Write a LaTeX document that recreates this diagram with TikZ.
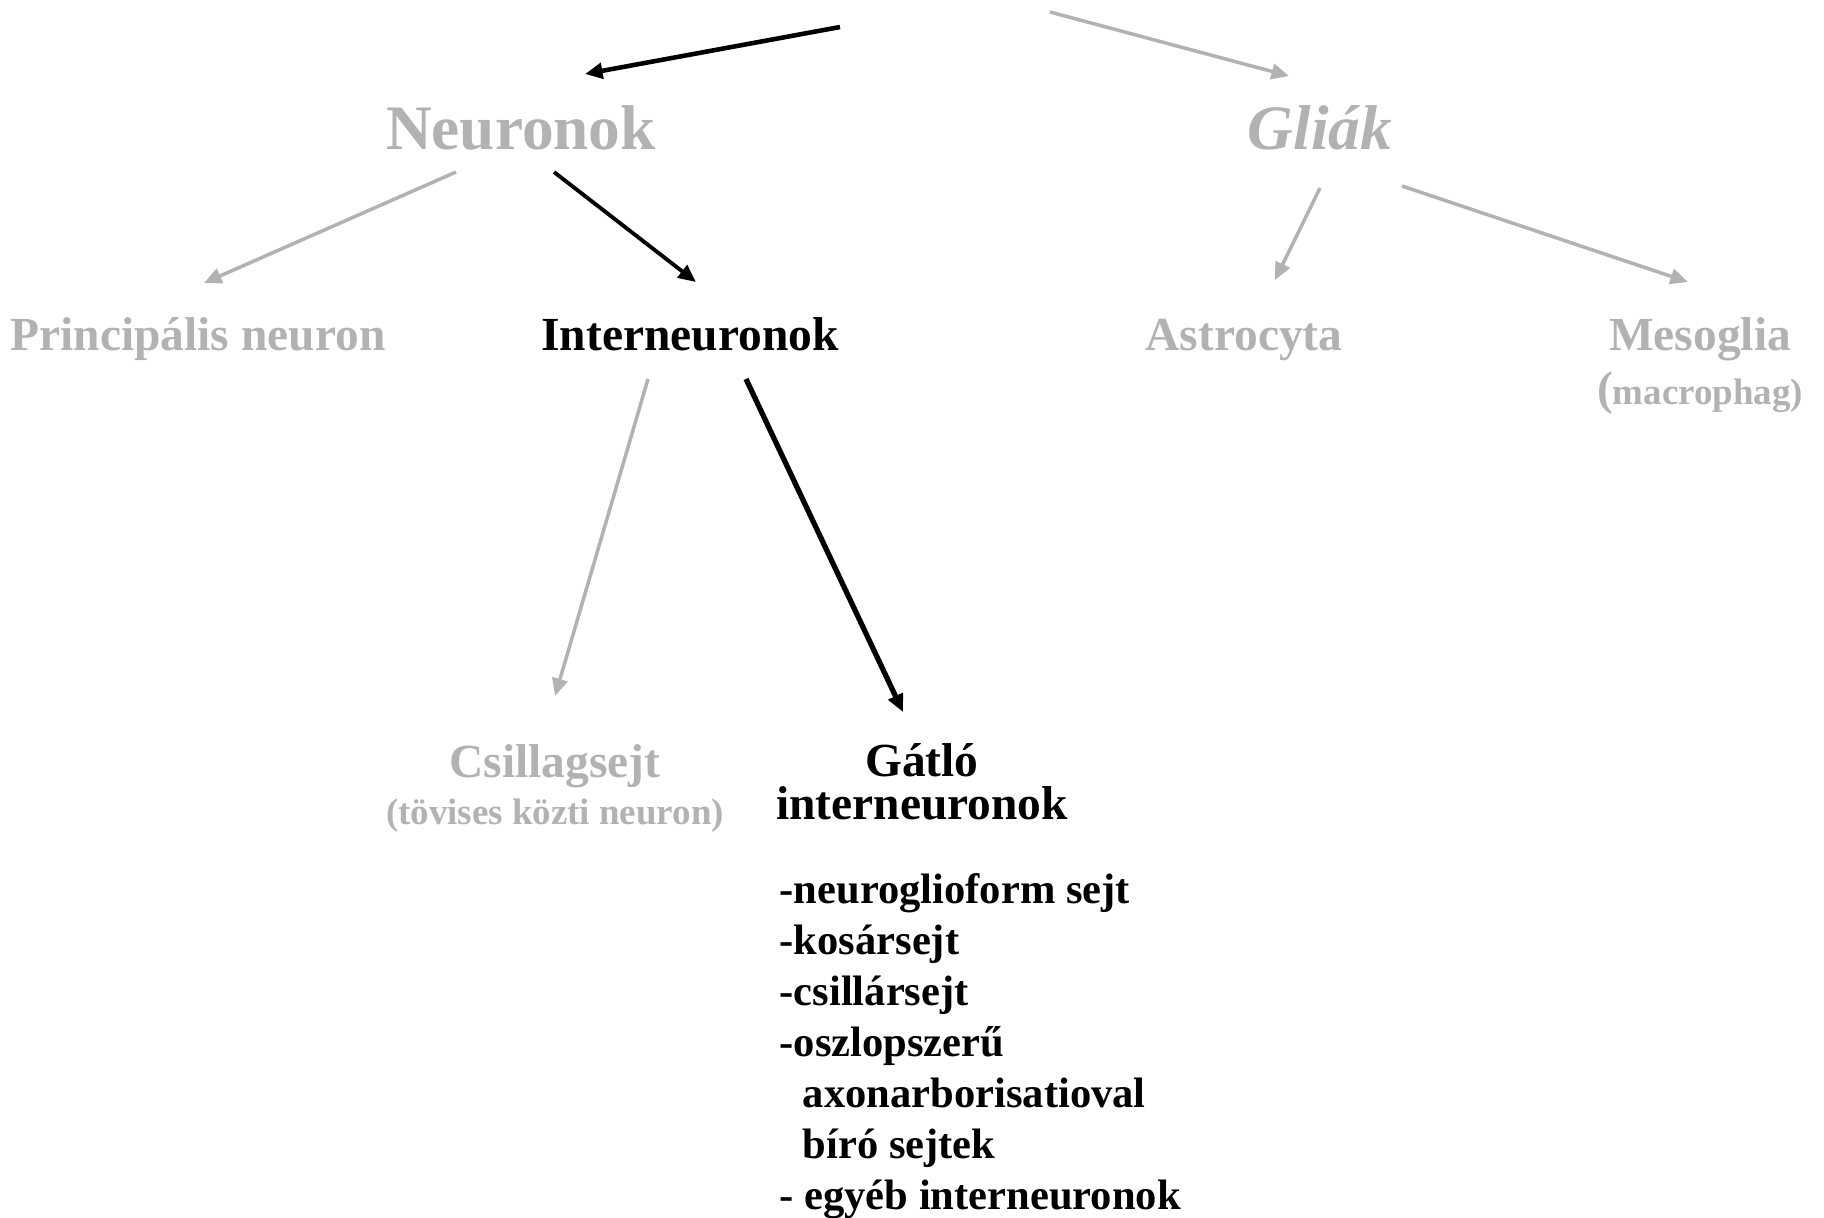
\documentclass[tikz,border=0pt]{standalone}
\usepackage{fontspec}
\setmainfont{Liberation Serif}
\usetikzlibrary{arrows.meta,calc}
\definecolor{faded}{RGB}{178,178,178}

\begin{document}
\begin{tikzpicture}[x=0.01cm,y=-0.01cm,
  lbl/.style={inner sep=0pt, anchor=base, font=\bfseries\fontsize{13.5}{15}\selectfont},
  big/.style={lbl, font=\bfseries\fontsize{18}{20}\selectfont},
  sub/.style={lbl, font=\bfseries\fontsize{10.5}{12}\selectfont},
  itm/.style={inner sep=0pt, anchor=base west, font=\bfseries\fontsize{12.1}{14}\selectfont},
  gtxt/.style={text=faded},
  arr/.style={-{Triangle[length=5pt,width=4.4pt]}, line width=1.1pt},
  garr/.style={arr, draw=faded, line width=1pt}]
\useasboundingbox (0,0) rectangle (1824,1217);

% first level
\node[big, gtxt] (neur) at (521,149) {Neuronok};
\node[big, gtxt, font=\bfseries\itshape\fontsize{18}{20}\selectfont] (glia) at (1320,149) {Gliák};

% second level
\node[lbl, gtxt] (princ) at (198,350) {Principális neuron};
\node[lbl] (inter) at (690,350) {Interneuronok};
\node[lbl, gtxt] (astro) at (1244,350) {Astrocyta};
\node[lbl, gtxt] (meso) at (1700,350) {Mesoglia};
\node[sub, gtxt] (macro) at (1700,404) {{\fontsize{13.5}{15}\selectfont(}macrophag)};

% third level
\node[lbl, gtxt] (csill) at (555,777) {Csillagsejt};
\node[sub, gtxt] (tovis) at (555,824) {(tövises közti neuron)};
\node[lbl, align=center, font=\bfseries\fontsize{13.5}{12.2}\selectfont] (gatlo) at (922,819) {Gátló\\interneuronok};

\foreach \txt [count=\i from 0] in {-neuroglioform sejt, -kosársejt, -csillársejt, -oszlopszerű,
    \hspace*{6.6pt}axonarborisatioval, \hspace*{6.6pt}bíró sejtek, - egyéb interneuronok}
  \node[itm] (item\i) at (779,{903+51*\i}) {\txt};

% arrows
\coordinate (rootL) at (840,27);
\coordinate (rootR) at (1050,12);
\draw[arr, line width=1.3pt] (rootL) -- ($(neur.base)+(64,-75)$);
\draw[garr] (rootR) -- ($(glia.base)+(-31,-73)$);
\draw[garr] ($(neur.base)+(-65,23)$) -- ($(princ.base)+(6,-67)$);
\draw[arr] ($(neur.base)+(33,23)$) -- ($(inter.base)+(6,-68)$);
\draw[garr] ($(glia.base)+(0,39)$) -- ($(astro.base)+(31,-70)$);
\draw[garr] ($(glia.base)+(82,37)$) -- ($(meso.base)+(-12,-68)$);
\draw[garr] ($(inter.base)+(-42,29)$) -- ($(csill.base)+(0,-81)$);
\draw[arr, line width=1.5pt] ($(inter.base)+(56,29)$) -- ($(gatlo.base)+(-19,-107)$);

\end{tikzpicture}
\end{document}
